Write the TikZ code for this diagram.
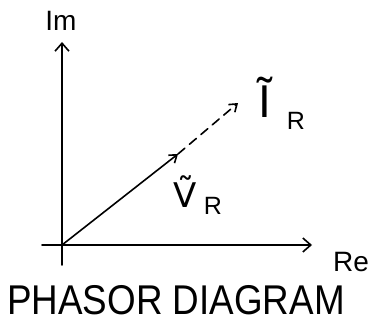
\documentclass[tikz,border=0pt]{standalone}
\usepackage{fontspec}
\setmainfont{Liberation Sans}
\newfontfamily\dvfont{DejaVu Sans}
\usetikzlibrary{arrows.meta}
\begin{document}
\begin{tikzpicture}[x=1pt,y=-1pt,
  axis/.style={line width=1.8pt,line cap=round},
  vec/.style={line width=1.6pt,line cap=round,-{Straight Barb[length=7pt,width=10pt,line width=1.6pt]}},
  lbl/.style={inner sep=0pt,font=\fontsize{28}{30}\selectfont},
  sub/.style={inner sep=0pt,font=\fontsize{25}{27}\selectfont}]
\useasboundingbox (0,0) rectangle (371,334);
\coordinate (O) at (62,245);
\coordinate (ybot) at (62,265);
\coordinate (ytop) at (62,42);
\coordinate (xl) at (42,245);
\coordinate (xr) at (312,245);
\coordinate (vr) at (178,154);
\coordinate (ir) at (238,103);
\draw[axis,-{Straight Barb[length=8pt,width=14pt,line width=1.6pt]}] (ybot) -- (ytop);
\draw[axis,-{Straight Barb[length=8pt,width=14pt,line width=1.6pt]}] (xl) -- (xr);
\draw[vec] (O) -- (vr);
\draw[vec,dashed,dash pattern=on 9pt off 6pt] (vr) -- (ir);
\node[lbl] (im) at (61,21) {Im};
\node[lbl] (re) at (351,262) {Re};
% I tilde R
\node[inner sep=0pt,anchor=base,font=\fontsize{46}{48}\selectfont] (ii) at (265,117) {Ĩ};
\node[sub] (ir2) at (296,121) {R};
% V tilde R
\node[inner sep=0pt,anchor=base,font=\dvfont\fontsize{34}{36}\selectfont] (vv) at (185,207) {Ṽ};
\node[sub] (vr2) at (213,206) {R};
\node[inner sep=0pt,font=\fontsize{32}{34}\selectfont,xscale=1.15,yscale=1.3] (title) at (176,300) {PHASOR DIAGRAM};
\end{tikzpicture}
\end{document}
